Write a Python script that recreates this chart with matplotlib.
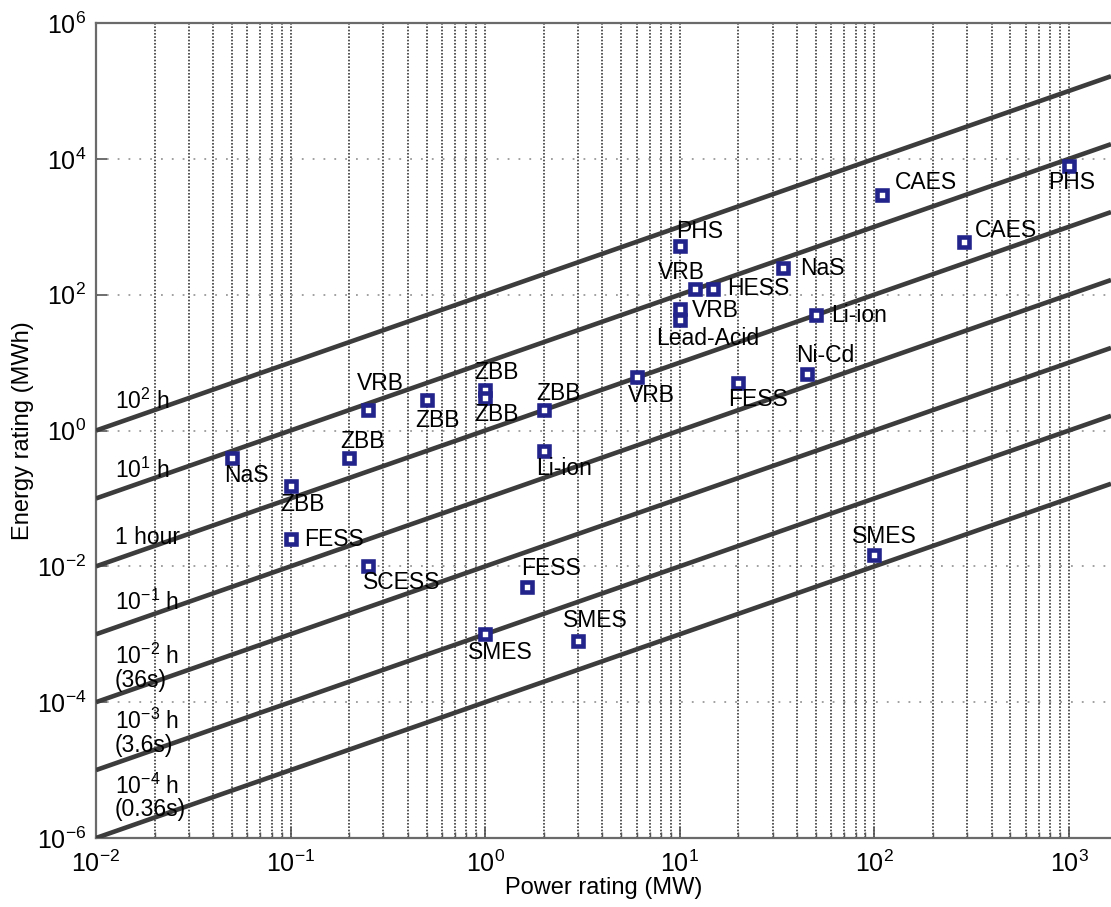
import numpy as np
import matplotlib.pyplot as plt
from matplotlib.ticker import FixedLocator, LogLocator, NullLocator, NullFormatter

plt.rcParams['font.family'] = ['Liberation Sans', 'DejaVu Sans']
plt.rcParams['mathtext.fontset'] = 'custom'
plt.rcParams['mathtext.rm'] = 'Liberation Sans'
plt.rcParams['mathtext.it'] = 'Liberation Sans:italic'

# storage technologies (power in MW, energy in MWh)
tech = ['NaS', 'ZBB', 'FESS', 'SCESS', 'ZBB', 'VRB', 'ZBB', 'ZBB', 'ZBB', 'ZBB',
        'Li-ion', 'VRB', 'FESS', 'Ni-Cd', 'PHS', 'VRB', 'HESS', 'VRB', 'Lead-Acid',
        'NaS', 'Li-ion', 'CAES', 'CAES', 'PHS', 'SMES', 'FESS', 'SMES', 'SMES']
power = [0.05, 0.1, 0.1, 0.25, 0.2, 0.25, 0.5, 1, 1, 2,
         2, 6, 20, 45, 10, 12, 14.8, 10, 10,
         34, 50, 110, 290, 1000, 100, 1.64, 1, 3]
energy = [0.39, 0.15, 0.025, 0.01, 0.4, 2.0, 2.8, 4.0, 3.0, 2.0,
          0.5, 6.1, 5.0, 6.8, 520, 121, 121, 61, 42,
          246, 50, 2930, 600, 7800, 0.0146, 0.005, 0.001, 0.0008]

# discharge-time lines (hours)
hours = [1e2, 1e1, 1, 1e-1, 1e-2, 1e-3, 1e-4]
hour_labels = ['10$^2$ h', '10$^1$ h', '1 hour', '10$^{-1}$ h',
               '10$^{-2}$ h\n(36s)', '10$^{-3}$ h\n(3.6s)', '10$^{-4}$ h\n(0.36s)']

# label offsets in pixels (dx, dy)
offs = [(14, -17), (12, -18), (43, 0), (34, -16), (13, 16), (12, 27), (11, -20),
        (11, 17), (11, -16), (15, 17), (20, -18), (15, -18), (20, -16), (18, 18),
        (20, 15), (-14, 17), (45, 1), (36, -1), (28, -18), (39, 0), (43, 0),
        (43, 13), (42, 11), (3, -16), (10, 19), (24, 18), (15, -18), (17, 20)]
hour_dy = [23, 21, 22, 25, 28, 31, 34]

W, H = 1111, 907
fig = plt.figure(figsize=(W/100, H/100), dpi=100)
ax = fig.add_axes([96/W, 1-838/H, 1-96/W, (838-23)/H])
ax.set_xscale('log')
ax.set_yscale('log')
xmax = 10**(-2 + 1015/194.6)
ax.set_xlim(1e-2, xmax)
ax.set_ylim(1e-6, 1e6)

xs = np.array([1e-2, xmax])
for h in hours:
    ax.plot(xs, h*xs, color='#3c3c3c', lw=3.3, zorder=3, solid_capstyle='butt')

x0 = 10**(-2 + 19/194.6)
for h, lab, dy in zip(hours, hour_labels, hour_dy):
    ax.annotate(lab, (x0, h*x0), xytext=(0, dy), textcoords='offset pixels',
                ha='left', va='center', fontsize=16.5, linespacing=1.0, zorder=4)

ax.plot(power, energy, 's', ms=6.8, mfc='white', mec='#23238c', mew=3.3,
        ls='none', zorder=5)
for t, p, e, (dx, dy) in zip(tech, power, energy, offs):
    ax.annotate(t, (p, e), xytext=(dx, dy), textcoords='offset pixels',
                ha='center', va='center', fontsize=16.5, zorder=6)

ax.xaxis.set_major_locator(LogLocator(base=10, numticks=20))
ax.xaxis.set_minor_locator(LogLocator(base=10, subs=np.arange(2, 10), numticks=20))
ax.xaxis.set_minor_formatter(NullFormatter())
ax.yaxis.set_major_locator(FixedLocator(10.0**np.arange(-6, 7, 2)))
ax.yaxis.set_minor_locator(NullLocator())

ax.grid(True, which='both', axis='x', ls=(0, (1, 1)), color='#3a3a3a', lw=1.2)
ax.grid(True, which='major', axis='y', ls=(0, (1, 5)), color='#9a9a9a', lw=1.3)
ax.tick_params(which='major', direction='in', length=8, width=1.2, colors='#555555',
               labelsize=18, labelcolor='black', pad=9)
ax.tick_params(which='minor', direction='in', length=4, width=1, colors='#555555')
ax.tick_params(axis='y', pad=7)
for s in ax.spines.values():
    s.set_color('#6a6a6a')
    s.set_linewidth(1.6)
ax.spines['right'].set_visible(False)

ax.set_xlabel('Power rating (MW)', fontsize=17, labelpad=0)
ax.set_ylabel('Energy rating (MWh)', fontsize=17, labelpad=2)

fig.savefig('out.png', dpi=100)
